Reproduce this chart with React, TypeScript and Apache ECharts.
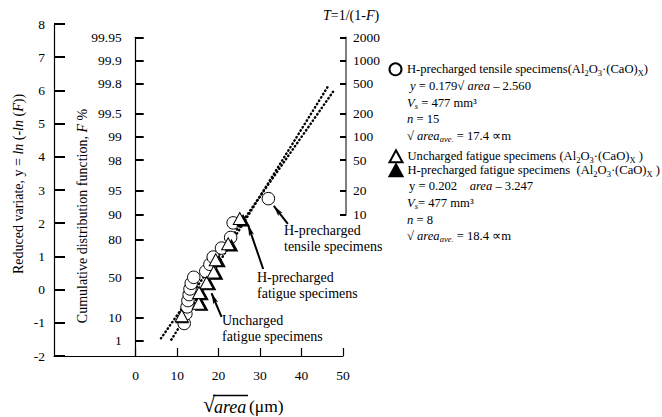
import React, { useEffect, useRef } from "react";
import * as echarts from "echarts";

const FONT = "Liberation Serif";

// H-precharged tensile specimens (circles)
const tensileX = [11.7, 12.1, 12.4, 12.6, 12.9, 13.1, 13.4, 14.0, 16.9, 17.9, 18.7, 20.7, 22.9, 23.5, 32.0];
const tensileY = [-1.02, -0.73, -0.52, -0.33, -0.15, 0.02, 0.19, 0.37, 0.55, 0.76, 0.98, 1.25, 1.57, 2.01, 2.74];

// Uncharged fatigue specimens (open triangles)
const unchargedX = [11.1, 15.2, 15.3, 17.1, 18.8, 19.3, 22.3, 25.1];
const unchargedY = [-0.79, -0.41, -0.09, 0.21, 0.53, 0.9, 1.38, 2.14];

// H-precharged fatigue specimens (filled triangles)
const hFatigueX = [11.2, 15.9, 16.0, 17.8, 19.5, 20.1, 23.1, 25.9];
const hFatigueY = [-0.83, -0.46, -0.14, 0.16, 0.48, 0.85, 1.33, 2.08];

// fitted lines: [slope, intercept] and x-range
const fitTensileCoef = [0.179, -2.56];
const fitTensileRange = [6.1, 47.6];
const fitFatigueCoef = [0.202, -3.247];
const fitFatigueRange = [8.6, 46.6];

// axis ticks
const xTicks = [0, 10, 20, 30, 40, 50];
const fLabels = ["1", "10", "50", "80", "90", "95", "98", "99", "99.5", "99.8", "99.9", "99.95"];
const tLabels = ["10", "20", "50", "100", "200", "500", "1000", "2000"];

const gumbel = (p: number) => -Math.log(-Math.log(p));
const fPos = fLabels.map((s) => gumbel(parseFloat(s) / 100));
const tPos = tLabels.map((s) => gumbel(1 - 1 / parseFloat(s)));

const G = { left: 54, top: 24, width: 289, height: 332 };
const Y_MIN = -2;
const Y_MAX = 8;
const PPU = G.height / (Y_MAX - Y_MIN);
const fMax = fPos[fPos.length - 1];
const tMin = tPos[0];
const tMax = tPos[tPos.length - 1];
const g2top = G.top + (Y_MAX - fMax) * PPU;
const g3top = G.top + (Y_MAX - tMax) * PPU;
const g3h = (tMax - tMin) * PPU;

const zip = (xs: number[], ys: number[]) => xs.map((x, i) => [x, ys[i]]);
const fitLine = (c: number[], r: number[]) => r.map((x) => [x, c[0] * x + c[1]]);

const NAMES = {
  t: "H-precharged tensile specimens",
  u: "Uncharged fatigue specimens",
  h: "H-precharged fatigue specimens",
};

const subRich = {
  sub: { fontSize: 8.5, fontFamily: FONT, verticalAlign: "bottom", lineHeight: 9, color: "#000" },
};

const txtRich = {
  i: { fontStyle: "italic", fontSize: 12.6, fontFamily: FONT, fill: "#000" },
  isub: { fontStyle: "italic", fontSize: 8.5, fontFamily: FONT, fill: "#000", verticalAlign: "bottom", lineHeight: 9 },
  n: { fontSize: 12.6, fontFamily: FONT, fill: "#000" },
};

const infoText = (x: number, y: number, text: string) => ({
  type: "text",
  x,
  y,
  silent: true,
  style: {
    text,
    fontSize: 12.6,
    fontFamily: FONT,
    fill: "#000",
    align: "left",
    verticalAlign: "middle",
    lineHeight: 15,
    rich: txtRich,
  },
});

const note = (x: number, y: number, text: string) => ({
  type: "text",
  x,
  y,
  silent: true,
  style: {
    text,
    fontSize: 14,
    fontFamily: FONT,
    fill: "#000",
    align: "left",
    verticalAlign: "middle",
    lineHeight: 16,
  },
});

export default function App() {
  const ref = useRef<HTMLDivElement>(null);
  useEffect(() => {
    if (!ref.current) return;
    const chart = echarts.init(ref.current, null, { renderer: "svg" });
    const labelStyle = { color: "#000", fontSize: 13.5, fontFamily: FONT };
    const legendCommon = {
      orient: "vertical",
      left: 388.5,
      padding: 0,
      itemWidth: 13,
      itemHeight: 12,
      itemGap: 0,
      selectedMode: false,
      textStyle: { color: "#000", fontSize: 12.6, fontFamily: FONT, lineHeight: 16, rich: subRich },
      formatter: (name: string) => {
        if (name === NAMES.t) return "H-precharged tensile specimens(Al{sub|2}O{sub|3}·(CaO){sub|X})";
        if (name === NAMES.u) return "Uncharged fatigue specimens (Al{sub|2}O{sub|3}·(CaO){sub|X} )";
        return "H-precharged fatigue specimens  (Al{sub|2}O{sub|3}·(CaO){sub|X} )";
      },
    };
    chart.setOption({
      animation: false,
      backgroundColor: "#fff",
      textStyle: { fontFamily: FONT, color: "#000" },
      grid: [
        { left: G.left, top: G.top, width: G.width, height: G.height },
        { left: 135.7, top: g2top, width: 100, height: G.top + G.height - g2top },
        { left: 200, top: g3top, width: 146, height: g3h },
      ],
      xAxis: [
        {
          gridIndex: 0,
          type: "value",
          min: -19.7,
          max: 50,
          axisLine: { onZero: false, lineStyle: { color: "#000", width: 1.2 } },
          axisTick: { inside: true, length: 8, customValues: xTicks, lineStyle: { color: "#000", width: 1.2 } },
          axisLabel: { ...labelStyle, customValues: xTicks, margin: 12 },
          splitLine: { show: false },
        },
        { gridIndex: 1, type: "value", show: false, min: 0, max: 1 },
        { gridIndex: 2, type: "value", show: false, min: 0, max: 1 },
      ],
      yAxis: [
        {
          gridIndex: 0,
          type: "value",
          min: Y_MIN,
          max: Y_MAX,
          interval: 1,
          axisLine: { show: true, onZero: false, lineStyle: { color: "#000", width: 1.2 } },
          axisTick: { show: true, inside: true, length: 11, lineStyle: { color: "#000", width: 2 } },
          axisLabel: { ...labelStyle, margin: 9 },
          splitLine: { show: false },
        },
        {
          gridIndex: 1,
          type: "value",
          min: Y_MIN,
          max: fMax,
          axisLine: { show: true, onZero: false, lineStyle: { color: "#000", width: 1.2 } },
          axisTick: { show: true, inside: true, length: 8, customValues: fPos, lineStyle: { color: "#000", width: 2 } },
          axisLabel: {
            ...labelStyle,
            margin: 14,
            customValues: fPos,
            formatter: (v: number) => {
              const i = fPos.findIndex((p) => Math.abs(p - v) < 1e-6);
              return i >= 0 ? fLabels[i] : "";
            },
          },
          splitLine: { show: false },
        },
        {
          gridIndex: 2,
          type: "value",
          position: "right",
          min: tMin,
          max: tMax,
          axisLine: { show: true, onZero: false, lineStyle: { color: "#555", width: 1.5 } },
          axisTick: { show: true, inside: true, length: 6, customValues: tPos, lineStyle: { color: "#000", width: 2 } },
          axisLabel: {
            ...labelStyle,
            margin: 7,
            customValues: tPos,
            formatter: (v: number) => {
              const i = tPos.findIndex((p) => Math.abs(p - v) < 1e-6);
              return i >= 0 ? tLabels[i] : "";
            },
          },
          splitLine: { show: false },
        },
      ],
      legend: [
        { ...legendCommon, data: [NAMES.t], top: 61.3 },
        { ...legendCommon, data: [NAMES.u], top: 148.3 },
        { ...legendCommon, data: [NAMES.h], top: 162.3 },
      ],
      series: [
        {
          type: "line",
          data: fitLine(fitTensileCoef, fitTensileRange),
          symbol: "none",
          silent: true,
          lineStyle: { color: "#000", width: 2.4, type: [0.5, 3.4], cap: "round" },
          z: 1,
        },
        {
          type: "line",
          data: fitLine(fitFatigueCoef, fitFatigueRange),
          symbol: "none",
          silent: true,
          lineStyle: { color: "#000", width: 2.4, type: [0.5, 3.4], cap: "round" },
          z: 1,
        },
        {
          name: NAMES.t,
          type: "scatter",
          data: zip(tensileX, tensileY),
          symbol: "circle",
          symbolSize: 12.5,
          itemStyle: { color: "#fff", borderColor: "#000", borderWidth: 1, opacity: 1 },
          z: 2,
        },
        {
          name: NAMES.h,
          type: "scatter",
          data: zip(hFatigueX, hFatigueY),
          symbol: "triangle",
          symbolSize: [12, 11],
          itemStyle: { color: "#000", borderColor: "#000", borderWidth: 1, opacity: 1 },
          z: 3,
        },
        {
          name: NAMES.u,
          type: "scatter",
          data: zip(unchargedX, unchargedY),
          symbol: "triangle",
          symbolSize: [13, 12],
          itemStyle: { color: "#fff", borderColor: "#000", borderWidth: 1, opacity: 1 },
          z: 4,
        },
        {
          type: "line",
          data: [],
          silent: true,
          z: 5,
          markLine: {
            silent: true,
            symbol: ["none", "arrow"],
            symbolSize: [4, 11],
            label: { show: false },
            lineStyle: { color: "#000", width: 2, type: "solid" },
            emphasis: { disabled: true },
            data: [
              [{ coord: [36.7, 1.98] }, { coord: [33.3, 2.52] }],
              [{ coord: [30.75, 0.62] }, { coord: [27.1, 1.95] }],
              [{ coord: [20.7, -0.82] }, { coord: [18.3, -0.11] }],
            ],
          },
        },
      ],
      graphic: [
        {
          type: "text",
          x: 18.3,
          y: 184,
          rotation: Math.PI / 2,
          silent: true,
          style: {
            text: "Reduced variate, y = {i|ln} (-{i|ln} ({i|F}))",
            fontSize: 14,
            fontFamily: FONT,
            fill: "#000",
            align: "center",
            verticalAlign: "middle",
            rich: { i: { fontStyle: "italic", fontSize: 14, fontFamily: FONT, fill: "#000" } },
          },
        },
        {
          type: "text",
          x: 82.3,
          y: 216,
          rotation: Math.PI / 2,
          silent: true,
          style: {
            text: "Cumulative distribution function, {i|F} %",
            fontSize: 14,
            fontFamily: FONT,
            fill: "#000",
            align: "center",
            verticalAlign: "middle",
            rich: { i: { fontStyle: "italic", fontSize: 14, fontFamily: FONT, fill: "#000" } },
          },
        },
        {
          type: "text",
          x: 323,
          y: 15,
          silent: true,
          style: {
            text: "{i|T}=1/(1-{i|F})",
            fontSize: 14,
            fontFamily: FONT,
            fill: "#000",
            align: "left",
            verticalAlign: "middle",
            rich: { i: { fontStyle: "italic", fontSize: 14, fontFamily: FONT, fill: "#000" } },
          },
        },
        // x axis name
        {
          type: "text",
          x: 203,
          y: 404,
          silent: true,
          style: { text: "√", fontSize: 22, fontFamily: FONT, fill: "#000", align: "left", verticalAlign: "middle" },
        },
        {
          type: "line",
          silent: true,
          shape: { x1: 213, y1: 395.5, x2: 248, y2: 395.5 },
          style: { stroke: "#000", lineWidth: 1.3 },
        },
        {
          type: "text",
          x: 214,
          y: 407,
          silent: true,
          style: { text: "area", fontSize: 18, fontStyle: "italic", fontFamily: FONT, fill: "#000", align: "left", verticalAlign: "middle" },
        },
        {
          type: "text",
          x: 249,
          y: 406,
          silent: true,
          style: { text: "(μm)", fontSize: 17.5, fontFamily: FONT, fill: "#000", align: "left", verticalAlign: "middle" },
        },
        // annotations
        note(284, 238.3, "H-precharged\ntensile specimens"),
        note(257, 285, "H-precharged\nfatigue specimens"),
        note(222, 328.3, "Uncharged\nfatigue specimens"),
        // legend details
        infoText(410, 85.5, "{i|y} = 0.179√ {i|area} – 2.560"),
        infoText(407, 102.5, "{i|V}{isub|s} = 477 mm³"),
        infoText(407, 119, "{i|n} = 15"),
        infoText(407, 135.5, "√ {i|area}{isub|ave.} = 17.4 ∝m"),
        infoText(409, 186, "y = 0.202    {i|area} – 3.247"),
        infoText(407, 203, "{i|V}{isub|s}= 477 mm³"),
        infoText(407, 219.5, "{i|n} = 8"),
        infoText(407, 236, "√ {i|area}{isub|ave.} = 18.4 ∝m"),
      ],
    });
    return () => chart.dispose();
  }, []);
  return (
    <div
      ref={ref}
      style={{ position: "fixed", left: 0, top: 0, width: 662, height: 417, background: "#fff" }}
    />
  );
}
